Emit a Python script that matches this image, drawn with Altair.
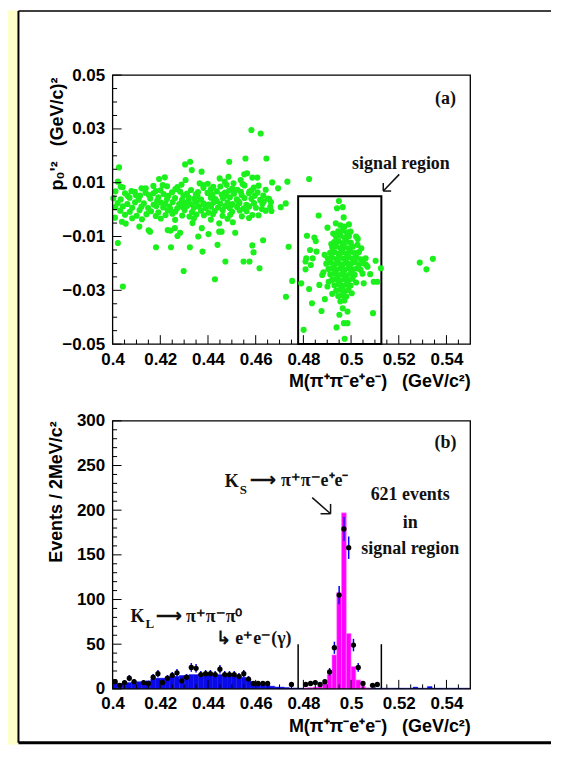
import altair as alt
import pandas as pd

# ---------------- panel (a): p0'^2 versus M(pi pi e e) ----------------
band_points = [
    (0.4012, 0.0068), (0.4052, 0.0061), (0.4093, 0.0066), (0.4138, 0.0063), (0.4181, 0.0069), (0.4214, 0.0058),
    (0.4249, 0.0064), (0.4283, 0.0067), (0.4312, 0.0060), (0.4358, 0.0065), (0.4398, 0.0062), (0.4437, 0.0068),
    (0.4471, 0.0063), (0.4509, 0.0059), (0.4538, 0.0066), (0.4572, 0.0061), (0.4608, 0.0064),
    (0.4003, 0.0042), (0.4034, 0.0038), (0.4071, 0.0044), (0.4109, 0.0037), (0.4158, 0.0041), (0.4192, 0.0046),
    (0.4228, 0.0039), (0.4262, 0.0043), (0.4291, 0.0036), (0.4319, 0.0045), (0.4342, 0.0040), (0.4371, 0.0037),
    (0.4412, 0.0044), (0.4431, 0.0039), (0.4463, 0.0042), (0.4492, 0.0046), (0.4521, 0.0038), (0.4553, 0.0043),
    (0.4582, 0.0040), (0.4619, 0.0036), (0.4652, 0.0041),
    (0.4021, 0.0024), (0.4062, 0.0021), (0.4094, 0.0027), (0.4131, 0.0023), (0.4172, 0.0019), (0.4203, 0.0026),
    (0.4221, 0.0022), (0.4252, 0.0028), (0.4279, 0.0021), (0.4302, 0.0025), (0.4331, 0.0020), (0.4352, 0.0027),
    (0.4381, 0.0023), (0.4402, 0.0019), (0.4423, 0.0026), (0.4451, 0.0022), (0.4482, 0.0027), (0.4503, 0.0021),
    (0.4532, 0.0025), (0.4561, 0.0018), (0.4593, 0.0024), (0.4628, 0.0021),
    (0.4011, 0.0009), (0.4043, 0.0012), (0.4082, 0.0007), (0.4121, 0.0011), (0.4149, 0.0006), (0.4183, 0.0013),
    (0.4212, 0.0008), (0.4238, 0.0011), (0.4271, 0.0005), (0.4293, 0.0010), (0.4313, 0.0014), (0.4341, 0.0007),
    (0.4362, 0.0012), (0.4391, 0.0006), (0.4413, 0.0011), (0.4442, 0.0008), (0.4472, 0.0013), (0.4491, 0.0006),
    (0.4522, 0.0010), (0.4549, 0.0004), (0.4573, 0.0012), (0.4601, 0.0007), (0.4661, 0.0010),
    (0.4032, -0.0004), (0.4072, -0.0008), (0.4113, -0.0002), (0.4161, -0.0006), (0.4192, -0.0010), (0.4232, -0.0003),
    (0.4263, -0.0007), (0.4302, -0.0001), (0.4333, -0.0009), (0.4371, -0.0004), (0.4402, -0.0011), (0.4428, -0.0005),
    (0.4462, -0.0002), (0.4501, -0.0008), (0.4533, -0.0003), (0.4562, -0.0006), (0.4642, -0.0004),
    (0.4052, -0.0019), (0.4101, -0.0023), (0.4142, -0.0017), (0.4181, -0.0024), (0.4222, -0.0020), (0.4251, -0.0015),
    (0.4292, -0.0022), (0.4322, -0.0026), (0.4351, -0.0018), (0.4383, -0.0021), (0.4421, -0.0016), (0.4461, -0.0023),
    (0.4493, -0.0019), (0.4542, -0.0025), (0.4612, -0.0021),
    (0.4042, 0.0083), (0.4121, 0.0079), (0.4171, 0.0088), (0.4272, 0.0084), (0.4381, 0.0081), (0.4452, 0.0086),
    (0.4502, 0.0078), (0.4553, 0.0090), (0.4592, 0.0082),
    (0.4123, -0.0036), (0.4202, -0.0033), (0.4262, -0.0038), (0.4341, -0.0032), (0.4412, -0.0037), (0.4482, -0.0034),
    (0.4572, -0.0031),
    (0.4233, 0.0051), (0.4297, 0.0053), (0.4356, 0.0049), (0.4419, 0.0055), (0.4478, 0.0052), (0.4541, 0.0054),
    (0.4241, 0.0003), (0.4318, 0.0031), (0.4387, 0.0015), (0.4436, 0.0032), (0.4497, 0.0016), (0.4527, 0.0031),
    (0.4201, 0.0072), (0.4263, 0.0076), (0.4329, 0.0073), (0.4412, 0.0075), (0.4489, 0.0071), (0.4523, 0.0074),
    (0.4583, 0.0072), (0.4632, 0.0052), (0.4612, 0.0089), (0.4545, 0.0095), (0.4478, 0.0092), (0.4399, 0.0096),
    (0.4289, 0.0093), (0.4228, 0.0087), (0.4152, 0.0054), (0.4063, 0.0052), (0.4187, 0.0033), (0.4349, 0.0057),
    (0.4457, 0.0056), (0.4596, 0.0052), (0.4664, 0.0028), (0.4642, 0.0074),
]

bg_outliers = [
    (0.4582, 0.0296), (0.4621, 0.0283), (0.4557, 0.0190), (0.4645, 0.0190), (0.4027, 0.0157), (0.4489, 0.0178),
    (0.4304, 0.0168), (0.4325, 0.0178), (0.4332, 0.0147), (0.4373, 0.0141), (0.4552, 0.0131), (0.4564, 0.0135),
    (0.4586, 0.0119), (0.4607, 0.0119), (0.4824, 0.0114), (0.4733, 0.0104), (0.4669, 0.0101), (0.4694, 0.0079),
    (0.4195, 0.0114), (0.4219, 0.0120), (0.4022, 0.0104), (0.4034, 0.0085), (0.4079, 0.0069), (0.4139, 0.0079),
    (0.4097, 0.0054), (0.4115, 0.0052), (0.4171, 0.0061), (0.4210, 0.0091), (0.4306, 0.0110), (0.4365, 0.0098),
    (0.4380, 0.0091), (0.4422, 0.0085), (0.4449, 0.0116), (0.4470, 0.0104), (0.4486, 0.0122), (0.4507, 0.0098),
    (0.4537, 0.0110), (0.4574, 0.0067), (0.4656, 0.0039), (0.4634, 0.0030), (0.4705, 0.0009), (0.4726, 0.0023),
    (0.4666, -0.0005), (0.4626, 0.0002), (0.4586, -0.0020),
    (0.4010, -0.0030), (0.4039, -0.0045), (0.4055, -0.0052), (0.4082, -0.0032), (0.4112, -0.0063), (0.4151, -0.0077),
    (0.4157, -0.0082), (0.4231, -0.0076), (0.4243, -0.0078), (0.4261, -0.0069), (0.4272, -0.0098), (0.4283, -0.0086),
    (0.4335, -0.0050), (0.4359, -0.0100), (0.4374, -0.0069), (0.4402, -0.0091), (0.4447, -0.0082), (0.4457, -0.0082),
    (0.4447, -0.0051), (0.4504, -0.0047), (0.4514, -0.0086), (0.4631, -0.0114), (0.4586, -0.0133), (0.4591, -0.0159),
    (0.4022, -0.0124), (0.4182, -0.0140), (0.4245, -0.0140), (0.4324, -0.0140), (0.4377, -0.0156), (0.4440, -0.0131),
    (0.4473, -0.0193), (0.4549, -0.0193), (0.4574, -0.0193), (0.4616, -0.0218), (0.4298, -0.0228), (0.4429, -0.0259),
    (0.4043, -0.0286), (0.4738, -0.0138), (0.4753, -0.0265), (0.4727, -0.0324),
]

sig_core = [
    (0.4955, -0.0058), (0.4973, -0.0063),
    (0.4946, -0.0081), (0.4964, -0.0078), (0.4982, -0.0084),
    (0.4937, -0.0101), (0.4955, -0.0097), (0.4973, -0.0104), (0.4991, -0.0099),
    (0.4929, -0.0121), (0.4947, -0.0118), (0.4964, -0.0124), (0.4982, -0.0119), (0.4999, -0.0123),
    (0.4921, -0.0141), (0.4938, -0.0137), (0.4956, -0.0143), (0.4972, -0.0139), (0.4990, -0.0144), (0.5007, -0.0138),
    (0.4912, -0.0161), (0.4930, -0.0158), (0.4947, -0.0164), (0.4965, -0.0159), (0.4981, -0.0163), (0.4998, -0.0157),
    (0.5016, -0.0162),
    (0.4902, -0.0181), (0.4920, -0.0178), (0.4938, -0.0184), (0.4955, -0.0179), (0.4972, -0.0183), (0.4989, -0.0177),
    (0.5006, -0.0182), (0.5024, -0.0179), (0.5042, -0.0185),
    (0.4896, -0.0201), (0.4914, -0.0197), (0.4931, -0.0203), (0.4948, -0.0199), (0.4965, -0.0204), (0.4982, -0.0198),
    (0.4999, -0.0202), (0.5016, -0.0196), (0.5034, -0.0203), (0.5051, -0.0199),
    (0.4905, -0.0221), (0.4922, -0.0218), (0.4939, -0.0223), (0.4956, -0.0219), (0.4973, -0.0224), (0.4990, -0.0217),
    (0.5007, -0.0222), (0.5024, -0.0219), (0.5040, -0.0224),
    (0.4913, -0.0241), (0.4930, -0.0238), (0.4947, -0.0243), (0.4964, -0.0239), (0.4981, -0.0244), (0.4998, -0.0238),
    (0.5015, -0.0242),
    (0.4921, -0.0261), (0.4938, -0.0258), (0.4955, -0.0263), (0.4972, -0.0259), (0.4989, -0.0262), (0.5006, -0.0257),
    (0.4930, -0.0281), (0.4947, -0.0278), (0.4964, -0.0283), (0.4981, -0.0279), (0.4998, -0.0282),
    (0.4938, -0.0301), (0.4955, -0.0298), (0.4972, -0.0303), (0.4989, -0.0299),
    (0.4946, -0.0321), (0.4963, -0.0318), (0.4980, -0.0323),
    (0.4955, -0.0341), (0.4972, -0.0338),
    (0.4925, -0.0089), (0.4917, -0.0128), (0.4889, -0.0168), (0.5027, -0.0131), (0.5033, -0.0158), (0.5062, -0.0204),
    (0.4884, -0.0233), (0.5048, -0.0238), (0.4906, -0.0268), (0.5021, -0.0271), (0.4921, -0.0313), (0.5003, -0.0311),
]

sig_outliers = [
    (0.4949, 0.0032), (0.4941, 0.0005), (0.4965, 0.0009), (0.4969, -0.0029), (0.4864, -0.0022), (0.4936, -0.0051),
    (0.4901, -0.0067), (0.4991, -0.0055), (0.4815, -0.0097), (0.4846, -0.0104), (0.4852, -0.0117), (0.4828, -0.0150),
    (0.4855, -0.0156), (0.4812, -0.0181), (0.4809, -0.0193), (0.4839, -0.0181), (0.4809, -0.0222), (0.4831, -0.0206),
    (0.4791, -0.0274), (0.4824, -0.0295), (0.4836, -0.0348), (0.4876, -0.0377), (0.4867, -0.0280), (0.4890, -0.0333),
    (0.4879, -0.0243), (0.4901, -0.0286), (0.4801, -0.0447), (0.4939, -0.0438), (0.4951, -0.0391), (0.4965, -0.0367),
    (0.4985, -0.0379), (0.4970, -0.0422), (0.4985, -0.0422), (0.4973, -0.0480), (0.5092, -0.0385), (0.5080, -0.0240),
    (0.5053, -0.0274), (0.5095, -0.0268), (0.5110, -0.0268), (0.5103, -0.0190), (0.5125, -0.0218), (0.5061, -0.0181),
    (0.5043, -0.0144), (0.5028, -0.0109), (0.4998, -0.0082), (0.5021, -0.0100), (0.5069, -0.0212), (0.5288, -0.0197),
    (0.5316, -0.0222), (0.5343, -0.0183),
]

signal_window = [0.4778, 0.5127]
signal_box_top = 0.005
signal_line_top = 50

x_major = [0.40, 0.42, 0.44, 0.46, 0.48, 0.50, 0.52, 0.54]
x_minor = [0.405, 0.41, 0.415, 0.425, 0.43, 0.435, 0.445, 0.45, 0.455, 0.465, 0.47, 0.475,
           0.485, 0.49, 0.495, 0.505, 0.51, 0.515, 0.525, 0.53, 0.535, 0.545]
a_y_major = [-0.05, -0.03, -0.01, 0.01, 0.03, 0.05]
a_y_minor = [-0.045, -0.04, -0.035, -0.025, -0.02, -0.015, -0.005, 0.0, 0.005, 0.015, 0.02, 0.025, 0.035, 0.04, 0.045]
b_y_major = [0, 50, 100, 150, 200, 250, 300]
b_y_minor = [10, 20, 30, 40, 60, 70, 80, 90, 110, 120, 130, 140, 160, 170, 180, 190,
             210, 220, 230, 240, 260, 270, 280, 290]

# ---------------- panel (b): histograms ----------------
bin_width = 0.002
kl_bin_lo = [0.400, 0.402, 0.404, 0.406, 0.408, 0.410, 0.412, 0.414, 0.416, 0.418,
             0.420, 0.422, 0.424, 0.426, 0.428, 0.430, 0.432, 0.434, 0.436, 0.438,
             0.440, 0.442, 0.444, 0.446, 0.448, 0.450, 0.452, 0.454, 0.456, 0.458,
             0.460, 0.462, 0.464, 0.466, 0.468, 0.470, 0.472, 0.474, 0.476, 0.478,
             0.480, 0.482, 0.484, 0.486, 0.488, 0.490, 0.492, 0.494, 0.496, 0.498,
             0.500, 0.502, 0.504, 0.506, 0.508, 0.510, 0.512, 0.514, 0.516, 0.518,
             0.520, 0.522, 0.524, 0.526, 0.528, 0.530, 0.532, 0.534, 0.536, 0.538,
             0.540, 0.542, 0.544, 0.546, 0.548]
kl_counts = [9, 6, 6, 7, 8, 8, 8, 9, 11, 12,
             12, 13, 14, 14, 15, 15, 16, 16, 16, 16,
             16, 16, 16, 15, 15, 15, 14, 13, 11, 8,
             6, 5, 4, 3, 2, 2, 1.5, 1, 1, 0.8,
             0.8, 0.8, 0.8, 0.8, 0.8, 0.8, 0.8, 0.8, 0.8, 0.8,
             0.8, 0.8, 0.8, 0.8, 0.8, 0.8, 0.8, 0.8, 0.8, 0.8,
             0.8, 0.8, 0.8, 2, 0.8, 0.8, 2.5, 0.8, 0.8, 0.8,
             0.8, 0.8, 0.8, 0.8, 0.8]
ks_bin_lo = [0.480, 0.482, 0.484, 0.486, 0.488, 0.490, 0.492, 0.494, 0.496, 0.498, 0.500, 0.502, 0.504, 0.506]
ks_counts = [1, 1.5, 2, 3, 6, 16, 38, 108, 197, 62, 25, 10, 3, 1]

data_mass = [0.401, 0.403, 0.405, 0.407, 0.409, 0.413, 0.415, 0.417, 0.419, 0.421, 0.423, 0.425, 0.427, 0.429,
             0.431, 0.433, 0.435, 0.437, 0.439, 0.441, 0.443, 0.445, 0.447, 0.449, 0.451, 0.453, 0.455, 0.457,
             0.459, 0.461, 0.463, 0.465, 0.475, 0.481, 0.483, 0.485, 0.487, 0.489, 0.491, 0.493, 0.495, 0.497,
             0.499, 0.501, 0.503, 0.505, 0.509, 0.511]
data_counts = [8, 4, 7, 12, 8, 7, 6, 13, 17, 7, 12, 15, 18, 9,
               13, 24, 23, 16, 17, 17, 16, 22, 16, 16, 16, 14, 17, 11,
               6, 6, 6, 6, 5, 5, 6, 7, 5, 8, 19, 46, 105, 179,
               158, 49, 24, 6, 4, 5]

# annotations (data coordinates)
a_labels = [{"x": 0.5396, "y": 0.0412, "t": "(a)"}, {"x": 0.5209, "y": 0.0171, "t": "signal region"}]
a_arrow = [{"x": 0.5202, "y": 0.0131, "x2": 0.5135, "y2": 0.0069},
           {"x": 0.5135, "y": 0.0069, "x2": 0.5135, "y2": 0.0099},
           {"x": 0.5135, "y": 0.0069, "x2": 0.5168, "y2": 0.0069}]
b_center_labels = [{"x": 0.5396, "y": 275, "t": "(b)"}, {"x": 0.5248, "y": 217, "t": "621 events"},
                   {"x": 0.5248, "y": 186, "t": "in"}, {"x": 0.5248, "y": 156, "t": "signal region"}]
b_left_labels = [{"x": 0.4470, "y": 232, "t": "K"}, {"x": 0.4578, "y": 233, "t": "⟶ π⁺π⁻e⁺e⁻"},
                 {"x": 0.4075, "y": 80, "t": "K"}, {"x": 0.4180, "y": 80, "t": "⟶ π⁺π⁻π⁰"},
                 {"x": 0.4433, "y": 56, "t": "↳ e⁺e⁻(γ)"}]
b_sub_labels = [{"x": 0.4533, "y": 223, "t": "S"}, {"x": 0.4138, "y": 73, "t": "L"}]
b_arrow = [{"x": 0.4837, "y": 214, "x2": 0.4914, "y2": 196},
           {"x": 0.4914, "y": 196, "x2": 0.4872, "y2": 196},
           {"x": 0.4914, "y": 196, "x2": 0.4914, "y2": 207}]

# ---------------- build ----------------
W, HA, HB = 359, 270, 269
SANS = "Liberation Sans"
SERIF = "Liberation Serif"
GREEN = "#1cf01c"
NB = "\u00a0"
XTITLE = "M(π⁺π⁻e⁺e⁻)" + NB + NB + NB + "(GeV/c²)"
YA_TITLE = "p₀'²" + NB + NB + NB + "(GeV/c)²"

xs = alt.Scale(domain=[0.4, 0.55], nice=False, zero=False)
ysa = alt.Scale(domain=[-0.05, 0.05], nice=False, zero=False)
ysb = alt.Scale(domain=[0, 300], nice=False, zero=False)

AX = dict(ticks=False, domain=False, grid=False, labelOverlap=False, labelFlush=False, zindex=2,
          labelFont=SANS, labelFontSize=17, labelFontWeight="bold", labelColor="black",
          titleFont=SANS, titleFontSize=18, titleFontWeight="bold", titleColor="black")


def x_axis():
    return alt.Axis(values=x_major, format="~g", title=XTITLE, labelPadding=7,
                    titleX=W, titleY=38, titleAlign="right", titleBaseline="middle", titleAngle=0, **AX)


def ya_axis():
    return alt.Axis(values=a_y_major, format=".2f", title=YA_TITLE, labelPadding=8,
                    titleX=-55, titleY=2, titleAlign="right", titleBaseline="middle", titleAngle=270, **AX)


def yb_axis():
    return alt.Axis(values=b_y_major, format="d", title="Events / 2MeV/c²", labelPadding=8,
                    titleX=-56, titleY=0, titleAlign="right", titleBaseline="middle", titleAngle=270, **AX)


def X(field):
    return alt.X(field, type="quantitative", scale=xs, axis=x_axis())


def Y(field, panel):
    if panel == "a":
        return alt.Y(field, type="quantitative", scale=ysa, axis=ya_axis())
    return alt.Y(field, type="quantitative", scale=ysb, axis=yb_axis())


one = alt.Data(values=[{"k": 1}])


def ticks_layers(panel, H):
    ymaj = a_y_major if panel == "a" else b_y_major
    ymin = a_y_minor if panel == "a" else b_y_minor
    out = []
    for vals, ln in ((ymaj, 9), (ymin, 4.5)):
        out.append(alt.Chart(pd.DataFrame({"v": vals})).mark_rule(color="black", strokeWidth=1).encode(
            y=Y("v", panel), x=alt.value(0), x2=alt.value(ln)))
    for vals, ln in ((x_major, 9), (x_minor, 4.5)):
        out.append(alt.Chart(pd.DataFrame({"v": vals})).mark_rule(color="black", strokeWidth=1).encode(
            x=X("v"), y=alt.value(H), y2=alt.value(H - ln)))
    out.append(alt.Chart(one).mark_rect(fillOpacity=0, stroke="black", strokeWidth=1.3).encode(
        x=alt.value(0), x2=alt.value(W), y=alt.value(0), y2=alt.value(H)))
    return out


# page decoration: yellow margin strip and black-bordered white sheet, drawn behind panel (a)
yellow_strip = alt.Chart(one).mark_rect(color="#ffffcc", clip=False).encode(
    x=alt.value(-105), x2=alt.value(-95), y=alt.value(-65), y2=alt.value(672))
left_border = alt.Chart(one).mark_rule(color="black", strokeWidth=2, clip=False).encode(
    x=alt.value(-94.5), y=alt.value(-64.25), y2=alt.value(670))
top_border = alt.Chart(one).mark_rule(color="black", strokeWidth=1.5, clip=False).encode(
    x=alt.value(-94.5), x2=alt.value(440), y=alt.value(-64.25))
bottom_border = alt.Chart(one).mark_rule(color="black", strokeWidth=3, clip=False).encode(
    x=alt.value(-94.5), x2=alt.value(440), y=alt.value(670))

scatter_df = pd.DataFrame(band_points + bg_outliers + sig_core + sig_outliers, columns=["m", "p2"])
scatter = alt.Chart(scatter_df).mark_circle(size=38, color=GREEN, opacity=1).encode(
    x=X("m"), y=Y("p2", "a"))

box = alt.Chart(pd.DataFrame({"lo": [signal_window[0]], "hi": [signal_window[1]], "top": [signal_box_top]})
                ).mark_rect(fillOpacity=0, stroke="black", strokeWidth=2).encode(
    x=X("lo"), x2="hi:Q", y=Y("top", "a"), y2=alt.datum(-0.05))

a_text = alt.Chart(pd.DataFrame(a_labels)).mark_text(
    font=SERIF, fontWeight="bold", fontSize=18, align="center", baseline="middle", color="#111").encode(
    x=X("x"), y=Y("y", "a"), text="t:N")
a_arr = alt.Chart(pd.DataFrame(a_arrow)).mark_rule(color="#111", strokeWidth=1.5).encode(
    x=X("x"), y=Y("y", "a"), x2="x2:Q", y2="y2:Q")

panel_a = alt.layer(yellow_strip, left_border, top_border, bottom_border, box, scatter,
                    *ticks_layers("a", HA), a_text, a_arr).properties(width=W, height=HA)

kl_df = pd.DataFrame({"lo": kl_bin_lo, "n": kl_counts})
kl_df["hi"] = kl_df["lo"] + bin_width
ks_df = pd.DataFrame({"lo": ks_bin_lo, "n": ks_counts})
ks_df["hi"] = ks_df["lo"] + bin_width
pts_df = pd.DataFrame({"m": data_mass, "n": data_counts})

kl_bars = alt.Chart(kl_df).mark_rect(color="#0a0ae8", stroke="#0a0ae8", strokeWidth=0.4).encode(
    x=X("lo"), x2="hi:Q", y=Y("n", "b"), y2=alt.datum(0))
ks_bars = alt.Chart(ks_df).mark_rect(color="#ff00ff", stroke="#ff7dff", strokeWidth=0.6).encode(
    x=X("lo"), x2="hi:Q", y=Y("n", "b"), y2=alt.datum(0))
edges = alt.Chart(pd.DataFrame({"m": signal_window, "top": [signal_line_top] * 2})).mark_rule(
    color="black", strokeWidth=1.5).encode(x=X("m"), y=Y("top", "b"), y2=alt.datum(0))
errs = alt.Chart(pts_df).transform_calculate(
    lo="datum.n - sqrt(datum.n)", hi="datum.n + sqrt(datum.n)").mark_rule(
    color="#0000ff", strokeWidth=1.5).encode(x=X("m"), y=Y("lo", "b"), y2="hi:Q")
dots = alt.Chart(pts_df).mark_circle(size=28, color="black", opacity=1).encode(x=X("m"), y=Y("n", "b"))

b_c = alt.Chart(pd.DataFrame(b_center_labels)).mark_text(
    font=SERIF, fontWeight="bold", fontSize=18, align="center", baseline="middle", color="#111").encode(
    x=X("x"), y=Y("y", "b"), text="t:N")
b_l = alt.Chart(pd.DataFrame(b_left_labels)).mark_text(
    font=SERIF, fontWeight="bold", fontSize=18, align="left", baseline="middle", color="#111").encode(
    x=X("x"), y=Y("y", "b"), text="t:N")
b_s = alt.Chart(pd.DataFrame(b_sub_labels)).mark_text(
    font=SERIF, fontWeight="bold", fontSize=13, align="left", baseline="middle", color="#111").encode(
    x=X("x"), y=Y("y", "b"), text="t:N")
b_arr = alt.Chart(pd.DataFrame(b_arrow)).mark_rule(color="#111", strokeWidth=1.5).encode(
    x=X("x"), y=Y("y", "b"), x2="x2:Q", y2="y2:Q")

panel_b = alt.layer(kl_bars, ks_bars, edges, errs, dots, *ticks_layers("b", HB),
                    b_c, b_l, b_s, b_arr).properties(width=W, height=HB)

chart = alt.vconcat(panel_a, panel_b, spacing=77, bounds="flush").properties(
    padding={"left": 0, "top": 0, "right": 0, "bottom": 0}
).configure(background="white").configure_view(stroke=None)

chart.save("out.html", embed_options={"renderer": "svg", "actions": False})
